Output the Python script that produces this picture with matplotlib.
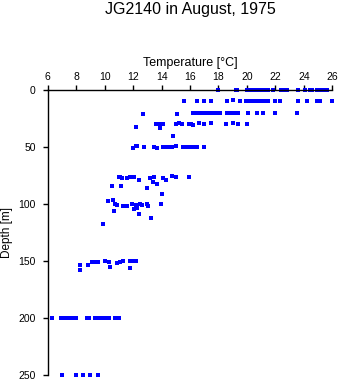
import matplotlib
matplotlib.use("Agg")
import matplotlib.pyplot as plt

plt.rcParams["font.family"] = ["Liberation Sans", "DejaVu Sans"]

# temperature [degC] and depth [m] of each bottle sample, grouped by nominal depth
temp_0 = [18.0, 19.2, 19.3, 20.0, 20.3, 20.5, 20.7, 20.9, 21.1, 21.3, 21.5, 21.8,
          22.4, 22.6, 22.8, 23.6, 24.1, 24.4, 24.6, 24.9, 25.1, 25.4, 25.6]
depth_0 = [0] * len(temp_0)

temp_10 = [15.6, 16.5, 17.0, 17.5, 18.6, 19.0, 19.5, 19.9, 20.1, 20.3, 20.5, 20.7,
           20.9, 21.1, 21.3, 21.5, 22.0, 22.3, 23.6, 24.2, 24.9, 25.1, 26.0]
depth_10 = [10, 10, 10, 10, 10, 9, 10, 10, 10, 10, 10, 10,
            10, 10, 10, 10, 10, 10, 10, 10, 10, 10, 10]

temp_20 = [12.7, 15.1, 16.2, 16.4, 16.6, 16.9, 17.2, 17.4, 17.6, 17.8, 18.1, 18.6,
           18.8, 19.1, 19.4, 20.1, 20.7, 21.1, 22.0, 23.5]
depth_20 = [21, 21, 20, 20, 20, 20, 20, 20, 20, 20, 20, 20,
            20, 20, 20, 20, 20, 20, 20, 20]

temp_30 = [12.2, 13.6, 13.8, 13.9, 14.1, 15.0, 15.2, 15.4, 15.9, 16.1, 16.2, 16.6,
           17.0, 17.5, 18.5, 19.0, 19.4, 20.0, 14.8]
depth_30 = [32, 30, 30, 33, 30, 30, 29, 30, 30, 30, 31, 29,
            30, 29, 30, 29, 30, 30, 40]

temp_50 = [12.0, 12.2, 12.3, 12.75, 13.5, 13.7, 14.1, 14.4, 14.6, 14.75, 15.0, 15.5,
           15.8, 16.0, 16.2, 16.5, 17.0]
depth_50 = [51, 49, 49, 50, 50, 51, 50, 50, 50, 50, 49, 50,
            50, 50, 50, 50, 50]

temp_75 = [11.0, 11.1, 11.2, 11.55, 11.8, 12.05, 12.4, 13.2, 13.4, 13.5, 13.65, 14.1,
           14.3, 14.7, 15.0, 15.95, 10.5, 11.15, 13.0, 14.05]
depth_75 = [76, 76, 77, 77, 76, 76, 79, 77, 81, 76, 82, 77,
            79, 75, 76, 76, 84, 84, 86, 91]

temp_100 = [10.25, 10.6, 10.75, 10.85, 10.65, 11.3, 11.45, 11.6, 11.95, 12.05, 12.2,
            12.3, 12.45, 12.6, 12.4, 13.0, 13.05, 13.25, 13.95, 9.9]
depth_100 = [97, 96, 100, 101, 106, 102, 102, 102, 100, 104, 101,
             103, 100, 101, 109, 100, 102, 112.5, 100, 117.5]

temp_150 = [8.25, 8.3, 8.85, 9.1, 9.3, 9.55, 10.0, 10.3, 10.35, 10.9, 11.1, 11.3,
            11.8, 12.0, 12.2, 11.8]
depth_150 = [158, 153, 153, 151, 151, 151, 150, 151, 155, 152, 151, 150,
             150, 150, 150, 156]

temp_200 = [6.3, 6.9, 7.1, 7.3, 7.5, 7.8, 8.0, 8.75, 8.9, 9.3, 9.5, 9.7,
            9.95, 10.1, 10.3, 10.7, 11.0]
depth_200 = [200] * len(temp_200)

temp_250 = [7.0, 8.0, 8.5, 8.95, 9.5]
depth_250 = [250] * len(temp_250)

x_ticks = [6, 8, 10, 12, 14, 16, 18, 20, 22, 24, 26]
y_ticks = [0, 50, 100, 150, 200, 250]

temps = temp_0 + temp_10 + temp_20 + temp_30 + temp_50 + temp_75 + temp_100 + temp_150 + temp_200 + temp_250
depths = depth_0 + depth_10 + depth_20 + depth_30 + depth_50 + depth_75 + depth_100 + depth_150 + depth_200 + depth_250

fig = plt.figure(figsize=(3.41, 3.84), dpi=100)
ax = fig.add_axes([0.140, 0.0227, 0.8346, 0.7429])
ax.plot(temps, depths, linestyle="none", marker="s", markersize=2.2,
        markeredgewidth=0, color="#0000ff", clip_on=False)

ax.set_xlim(6, 26)
ax.set_ylim(250, 0)
ax.set_xticks(x_ticks)
ax.set_yticks(y_ticks)
ax.xaxis.tick_top()
ax.xaxis.set_label_position("top")
ax.spines["bottom"].set_visible(False)
ax.spines["right"].set_visible(False)
for side in ("top", "left"):
    ax.spines[side].set_linewidth(1)
ax.tick_params(axis="both", direction="out", length=3.6, width=1, labelsize=7.5)
ax.tick_params(axis="x", pad=2.3)
ax.tick_params(axis="y", pad=5)
ax.set_xlabel("Temperature [°C]", fontsize=9, labelpad=4.5)
ax.set_ylabel("Depth [m]", fontsize=8.5, labelpad=4)

fig.suptitle("JG2140 in August, 1975", x=0.558, y=0.995, fontsize=11.5)

fig.savefig("out.png", dpi=100)
